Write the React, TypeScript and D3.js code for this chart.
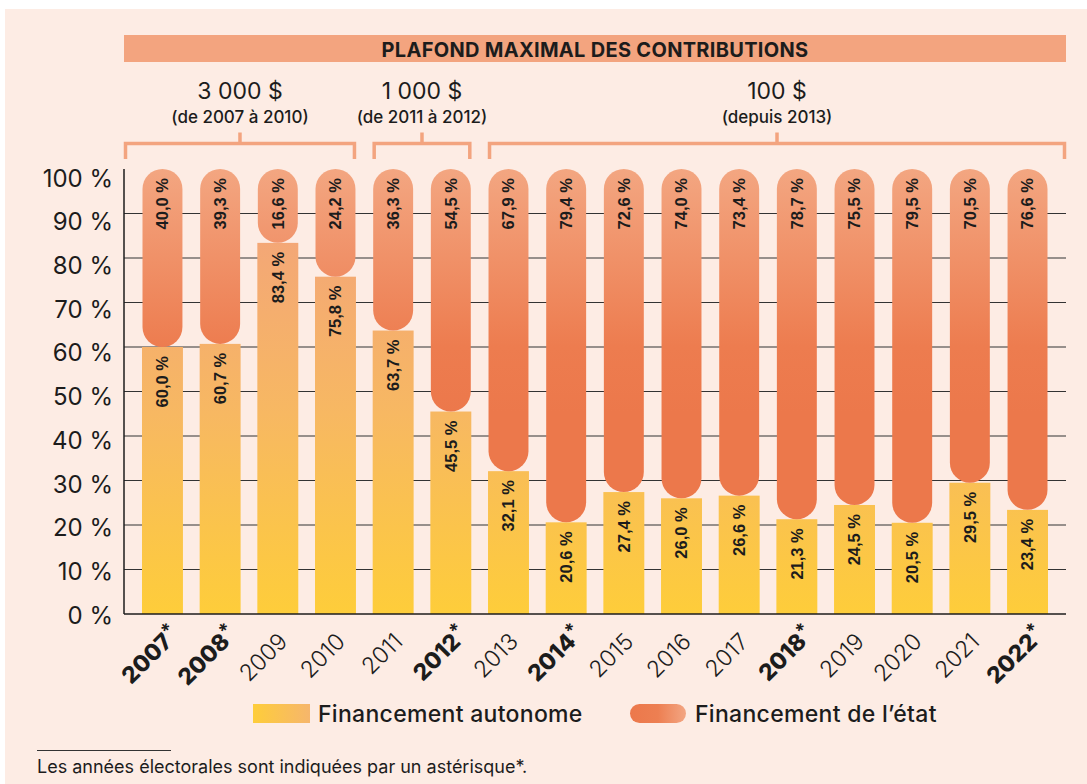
import React from "react";
import * as d3 from "d3";

// --- Data ---
const years = ["2007", "2008", "2009", "2010", "2011", "2012", "2013", "2014", "2015", "2016", "2017", "2018", "2019", "2020", "2021", "2022"];
const electoralYears = ["2007", "2008", "2012", "2014", "2018", "2022"];
const autonome = [60.0, 60.7, 83.4, 75.8, 63.7, 45.5, 32.1, 20.6, 27.4, 26.0, 26.6, 21.3, 24.5, 20.5, 29.5, 23.4];
const etat = [40.0, 39.3, 16.6, 24.2, 36.3, 54.5, 67.9, 79.4, 72.6, 74.0, 73.4, 78.7, 75.5, 79.5, 70.5, 76.6];
const yTicks = [0, 10, 20, 30, 40, 50, 60, 70, 80, 90, 100];
const periodAmounts = ["3 000 $", "1 000 $", "100 $"];
const periodRanges = ["(de 2007 à 2010)", "(de 2011 à 2012)", "(depuis 2013)"];
const periodFrom = ["2007", "2011", "2013"];
const periodTo = ["2010", "2012", "2022"];

const W = 1087;
const H = 784;
const FONT = "Inter, 'Noto Sans', sans-serif";
const NUM_FONT = "'Liberation Sans', Arial, sans-serif";
const INK = "#1c1c1c";
const PEACH = "#fdece4";
const SALMON = "#f3a47f";

const fmt = (v: number) => v.toFixed(1).replace(".", ",") + " %";

export default function App() {
  const left = 124;
  const right = 1066;
  const x = d3.scaleBand<string>().domain(years).range([left, right]).paddingInner(0.29).paddingOuter(0.312);
  const y = d3.scaleLinear().domain([0, 100]).range([614, 169]);
  // tick labels sit very slightly off the grid in the original
  const yLab = d3.scaleLinear().domain([0, 100]).range([615, 178]);
  const bw = x.bandwidth();
  const cx = (yr: string) => (x(yr) as number) + bw / 2;

  return (
    <svg width={W} height={H} style={{ position: "absolute", left: 0, top: 0 }} fontFamily={FONT}>
      <defs>
        <linearGradient id="gYellow" gradientUnits="userSpaceOnUse" x1="0" y1={y(0)} x2="0" y2={y(100)}>
          <stop offset="0%" stopColor="#fecd3a" />
          <stop offset="45%" stopColor="#f7b862" />
          <stop offset="100%" stopColor="#f2a07f" />
        </linearGradient>
        <linearGradient id="gOrange" gradientUnits="userSpaceOnUse" x1="0" y1={y(100)} x2="0" y2={y(0)}>
          <stop offset="0%" stopColor="#f3a681" />
          <stop offset="40%" stopColor="#ed7c4f" />
          <stop offset="55%" stopColor="#ec784b" />
          <stop offset="100%" stopColor="#ec784b" />
        </linearGradient>
        <linearGradient id="gLegY" x1="0" y1="0" x2="1" y2="0">
          <stop offset="0%" stopColor="#fecd3a" />
          <stop offset="100%" stopColor="#f6b66c" />
        </linearGradient>
        <linearGradient id="gLegO" x1="0" y1="0" x2="1" y2="0">
          <stop offset="0%" stopColor="#ec784b" />
          <stop offset="50%" stopColor="#ed7f52" />
          <stop offset="100%" stopColor="#f3a683" />
        </linearGradient>
      </defs>

      <rect width={W} height={H} fill="#fff" />
      <rect x={5} y={9} width={W - 5} height={H - 9} fill={PEACH} />

      {/* header band */}
      <rect x={left} y={35} width={right - left} height={27} fill={SALMON} />
      <text x={(left + right) / 2} y={56.5} textAnchor="middle" fontSize={20} fontWeight={700} letterSpacing={0.3} fill={INK}>
        PLAFOND MAXIMAL DES CONTRIBUTIONS
      </text>

      {/* contribution cap brackets */}
      {periodAmounts.map((amt, i) => {
        const x0 = i === 0 ? left : (x(periodFrom[i]) as number);
        const x1 = i === periodAmounts.length - 1 ? right : (x(periodTo[i]) as number) + bw;
        const mid = (x0 + x1) / 2;
        return (
          <g key={amt}>
            <text x={mid} y={99} textAnchor="middle" fontSize={23} fontWeight={400} fill={INK}>{amt}</text>
            <text x={mid} y={123} textAnchor="middle" fontSize={17} fontWeight={500} fill={INK}>{periodRanges[i]}</text>
            <path
              d={`M${x0 + 1.5},159 V143.5 H${x1 - 1.5} V159 M${mid},143.5 V132.5`}
              fill="none"
              stroke={SALMON}
              strokeWidth={3.5}
            />
          </g>
        );
      })}

      {/* grid */}
      {yTicks.filter((t) => t > 0 && t < 100).map((t) => (
        <line key={t} x1={left} x2={right} y1={y(t)} y2={y(t)} stroke="#333" strokeWidth={1.2} />
      ))}
      {yTicks.map((t) => (
        <text key={t} x={113} y={yLab(t)} dy="0.36em" textAnchor="end" fontSize={24} fill={INK}>
          {t} %
        </text>
      ))}

      {/* bars */}
      {years.map((yr, i) => {
        const top = y(autonome[i]);
        return (
          <g key={yr}>
            <rect x={x(yr)} y={top} width={bw} height={y(0) - top} fill="url(#gYellow)" />
            <rect x={(x(yr) as number) + 0.5} y={y(100)} width={bw - 1} height={top - y(100)} rx={(bw - 1) / 2} fill="url(#gOrange)" />
            <text
              transform={`translate(${cx(yr) + 5.8},${y(100) + 9}) rotate(-90)`}
              textAnchor="end"
              fontFamily={NUM_FONT}
              fontWeight={700}
              fontSize={16.5}
              fill={INK}
            >
              {fmt(etat[i])}
            </text>
            <text
              transform={`translate(${cx(yr) + 5.8},${top + 9}) rotate(-90)`}
              textAnchor="end"
              fontFamily={NUM_FONT}
              fontWeight={700}
              fontSize={16.5}
              fill={INK}
            >
              {fmt(autonome[i])}
            </text>
          </g>
        );
      })}

      {/* axes */}
      <line x1={left} x2={left} y1={y(100)} y2={y(0)} stroke={INK} strokeWidth={1.5} />
      <line x1={left} x2={right} y1={y(0)} y2={y(0)} stroke={INK} strokeWidth={1.5} />

      {/* year labels */}
      {years.map((yr) => {
        const bold = electoralYears.includes(yr);
        return (
          <g key={yr} transform={`translate(${cx(yr) + 11},643) rotate(-45)`}>
            <text textAnchor="end" fontSize={23} fontWeight={bold ? 800 : 300} fill={INK}>
              {yr}
            </text>
            {bold && (
              <text x={0} y={-7} fontSize={19} fontWeight={700} fill={INK}>*</text>
            )}
          </g>
        );
      })}

      {/* legend */}
      <rect x={253} y={704} width={57} height={19} fill="url(#gLegY)" />
      <text x={318} y={722} fontSize={23} fontWeight={500} letterSpacing={0.3} fill={INK}>Financement autonome</text>
      <rect x={630} y={704} width={56} height={19} rx={9.5} fill="url(#gLegO)" />
      <text x={695} y={722} fontSize={23} fontWeight={500} letterSpacing={0.3} fill={INK}>Financement de l’état</text>

      {/* footnote */}
      <line x1={37} x2={171} y1={750.5} y2={750.5} stroke="#333" strokeWidth={1} />
      <text x={37} y={773} fontSize={18} fill={INK}>Les années électorales sont indiquées par un astérisque*.</text>
    </svg>
  );
}
